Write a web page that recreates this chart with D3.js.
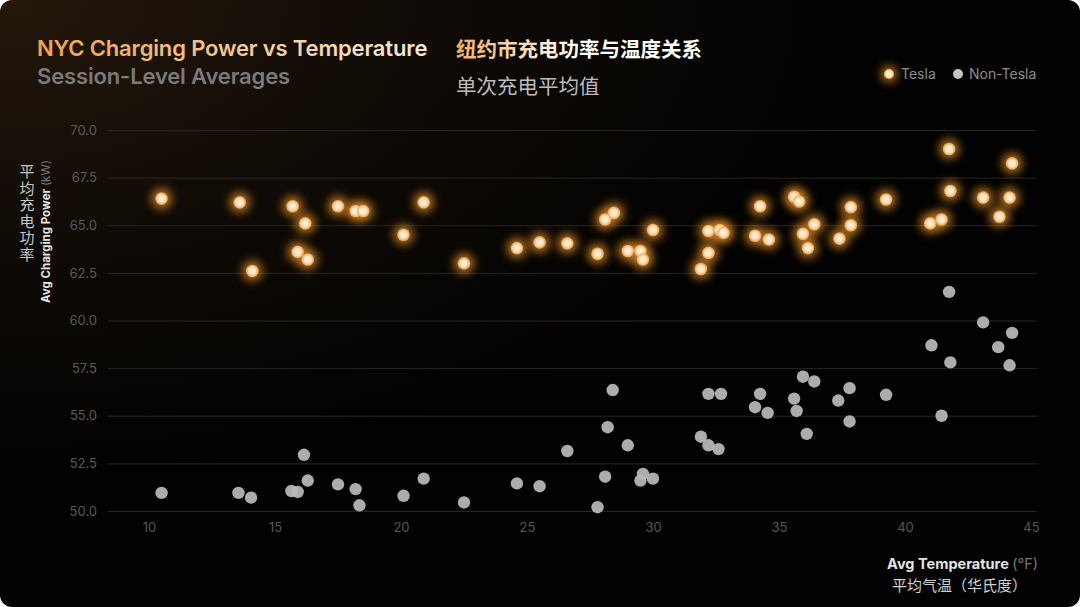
<!DOCTYPE html>
<html>
<head>
<meta charset="utf-8">
<script src="https://cdn.jsdelivr.net/npm/d3@7"></script>
<style>
  body { margin: 0; background: #ffffff; }
  svg { display: block; }
  text { font-family: Inter, "Noto Sans", sans-serif; }
  .cjk { font-family: "Noto Sans CJK SC", sans-serif; }
</style>
</head>
<body>
<script>
// Tesla sessions: temperature (°F) and avg power (kW)
var teslaTemp = [10.5, 13.6, 14.1, 15.7, 15.9, 16.2, 16.3, 17.5, 18.2, 18.5,
  20.1, 20.9, 22.5, 24.6, 25.5, 26.6, 27.8, 28.1, 28.45, 29.0,
  29.5, 29.6, 30.0, 31.9, 32.2, 32.2, 32.65, 32.8, 34.05, 34.25,
  34.6, 35.6, 35.8, 35.95, 36.15, 36.4, 37.4, 37.85, 37.85, 39.25,
  41.0, 41.45, 41.75, 41.8, 43.1, 43.75, 44.15, 44.25];
var teslaPower = [66.4, 66.2, 62.6, 66.0, 63.6, 65.1, 63.2, 66.0, 65.75, 65.75,
  64.5, 66.2, 63.0, 63.8, 64.1, 64.05, 63.5, 65.3, 65.65, 63.65,
  63.65, 63.2, 64.75, 62.7, 64.7, 63.55, 64.75, 64.6, 64.45, 66.0,
  64.25, 66.5, 66.25, 64.55, 63.8, 65.05, 64.3, 65.95, 65.0, 66.35,
  65.1, 65.3, 69.0, 66.8, 66.45, 65.45, 66.45, 68.25];

// Non-Tesla sessions
var otherTemp = [10.5, 13.55, 14.05, 15.65, 15.9, 16.15, 16.3, 17.5, 18.2, 18.35,
  20.1, 20.9, 22.5, 24.6, 25.5, 26.6, 27.8, 28.1, 28.2, 28.4,
  29.0, 29.5, 29.6, 30.0, 31.9, 32.2, 32.2, 32.6, 32.7, 34.05,
  34.25, 34.55, 35.6, 35.7, 35.95, 36.1, 36.4, 37.35, 37.8, 37.8,
  39.25, 41.05, 41.45, 41.75, 41.8, 43.1, 43.7, 44.15, 44.25];
var otherPower = [50.95, 50.95, 50.7, 51.05, 51.0, 52.95, 51.6, 51.4, 51.15, 50.3,
  50.8, 51.7, 50.45, 51.45, 51.3, 53.15, 50.2, 51.8, 54.4, 56.35,
  53.45, 51.6, 51.95, 51.7, 53.9, 53.45, 56.15, 53.25, 56.15, 55.45,
  56.15, 55.15, 55.9, 55.25, 57.05, 54.05, 56.8, 55.8, 56.45, 54.7,
  56.1, 58.7, 55.0, 61.5, 57.8, 59.9, 58.6, 57.65, 59.35];

var xTicks = [10, 15, 20, 25, 30, 35, 40, 45];
var yTicks = [50, 52.5, 55, 57.5, 60, 62.5, 65, 67.5, 70];

var w = 1080;
var h = 607;

var svg = d3.select("body")
  .append("svg")
  .attr("width", w)
  .attr("height", h);

var defs = svg.append("defs");

var bg = defs.append("radialGradient")
  .attr("id", "bg")
  .attr("cx", "0").attr("cy", "0").attr("r", "1.0");
bg.append("stop").attr("offset", "0").attr("stop-color", "#24170b");
bg.append("stop").attr("offset", "0.45").attr("stop-color", "#0d0905");
bg.append("stop").attr("offset", "0.8").attr("stop-color", "#020202");

var titleGrad = defs.append("linearGradient").attr("id", "titleGrad");
titleGrad.append("stop").attr("offset", "0").attr("stop-color", "#eea451");
titleGrad.append("stop").attr("offset", "1").attr("stop-color", "#f6ead8");

var cnGrad = defs.append("linearGradient").attr("id", "cnGrad");
cnGrad.append("stop").attr("offset", "0").attr("stop-color", "#f0b066");
cnGrad.append("stop").attr("offset", "0.5").attr("stop-color", "#ffffff");

var dotGrad = defs.append("radialGradient").attr("id", "dotGrad");
dotGrad.append("stop").attr("offset", "0").attr("stop-color", "#fffaf0");
dotGrad.append("stop").attr("offset", "0.55").attr("stop-color", "#fde8c4");
dotGrad.append("stop").attr("offset", "1").attr("stop-color", "#e9a552");

var glow = defs.append("filter").attr("id", "glow")
  .attr("x", "-100%").attr("y", "-100%").attr("width", "300%").attr("height", "300%");
glow.append("feGaussianBlur").attr("stdDeviation", 5);

svg.append("rect")
  .attr("width", w).attr("height", h)
  .attr("rx", 12)
  .attr("fill", "url(#bg)");

var x = d3.scaleLinear().domain([10, 45]).range([149, 1031]);
var y = d3.scaleLinear().domain([50, 70]).range([511, 130]);

// grid lines
svg.append("g")
  .attr("transform", "translate(108,0)")
  .call(d3.axisLeft(y).tickValues(yTicks).tickSize(-929).tickFormat(""))
  .call(function(g) { g.select(".domain").remove(); })
  .selectAll("line")
  .attr("stroke", "#2a2520")
  .attr("stroke-width", 1);

// y tick labels
svg.append("g")
  .attr("transform", "translate(97,0)")
  .call(d3.axisLeft(y).tickValues(yTicks).tickSize(0).tickPadding(0).tickFormat(d3.format(".1f")))
  .call(function(g) {
    g.select(".domain").remove();
    g.selectAll("text")
      .attr("fill", "#5b5854")
      .attr("font-size", 13)
      .attr("font-family", "Inter, sans-serif");
  });

// x tick labels
svg.append("g")
  .attr("transform", "translate(0,523)")
  .call(d3.axisBottom(x).tickValues(xTicks).tickSize(0).tickPadding(0))
  .call(function(g) {
    g.select(".domain").remove();
    g.selectAll("text")
      .attr("fill", "#575757")
      .attr("font-size", 13)
      .attr("font-family", "Inter, sans-serif");
  });

// non-tesla points
svg.selectAll(".other")
  .data(otherTemp)
  .enter()
  .append("circle")
  .attr("class", "other")
  .attr("cx", function(d) { return x(d); })
  .attr("cy", function(d, i) { return y(otherPower[i]); })
  .attr("r", 6.2)
  .attr("fill", "#b9b9b9")
  .attr("fill-opacity", 0.93);

// tesla glow + core
svg.selectAll(".teslaGlow")
  .data(teslaTemp)
  .enter()
  .append("circle")
  .attr("class", "teslaGlow")
  .attr("cx", function(d) { return x(d); })
  .attr("cy", function(d, i) { return y(teslaPower[i]); })
  .attr("r", 10)
  .attr("fill", "#d98628")
  .attr("opacity", 0.85)
  .attr("filter", "url(#glow)");

svg.selectAll(".tesla")
  .data(teslaTemp)
  .enter()
  .append("circle")
  .attr("class", "tesla")
  .attr("cx", function(d) { return x(d); })
  .attr("cy", function(d, i) { return y(teslaPower[i]); })
  .attr("r", 6.3)
  .attr("fill", "url(#dotGrad)")
  .attr("fill-opacity", 0.95);

// titles
svg.append("text")
  .attr("x", 37).attr("y", 56)
  .attr("font-size", 22).attr("font-weight", 600)
  .attr("fill", "url(#titleGrad)")
  .attr("letter-spacing", -0.15)
  .text("NYC Charging Power vs Temperature");

svg.append("text")
  .attr("x", 37).attr("y", 84)
  .attr("font-size", 22).attr("font-weight", 600)
  .attr("fill", "#7b7b7b")
  .attr("letter-spacing", -0.15)
  .text("Session-Level Averages");

svg.append("text")
  .attr("class", "cjk")
  .attr("x", 456).attr("y", 57)
  .attr("font-size", 20.5).attr("font-weight", 700)
  .attr("fill", "url(#cnGrad)")
  .text("纽约市充电功率与温度关系");

svg.append("text")
  .attr("class", "cjk")
  .attr("x", 456).attr("y", 94)
  .attr("font-size", 20.5)
  .attr("fill", "#bdbdbd")
  .text("单次充电平均值");

// legend
var legend = svg.append("g");
legend.append("circle").attr("cx", 889).attr("cy", 74).attr("r", 8)
  .attr("fill", "#d98628").attr("opacity", 0.85).attr("filter", "url(#glow)");
legend.append("circle").attr("cx", 889).attr("cy", 74).attr("r", 5)
  .attr("fill", "url(#dotGrad)");
legend.append("text").attr("x", 901).attr("y", 79)
  .attr("font-size", 14).attr("fill", "#8d8d8d").text("Tesla");
legend.append("circle").attr("cx", 958).attr("cy", 74).attr("r", 5)
  .attr("fill", "#c4c4c4");
legend.append("text").attr("x", 969).attr("y", 79)
  .attr("font-size", 14).attr("fill", "#8d8d8d").text("Non-Tesla");

// y axis title
var yTitle = svg.append("text")
  .attr("transform", "translate(50,303) rotate(-90)")
  .attr("font-family", "Roboto, sans-serif")
  .attr("font-size", 11.5);
yTitle.append("tspan").attr("font-weight", 700).attr("fill", "#e4e4e4").text("Avg Charging Power ");
yTitle.append("tspan").attr("fill", "#777").text("(kW)");

svg.append("text")
  .attr("class", "cjk")
  .attr("x", 27).attr("y", 164)
  .attr("font-size", 15)
  .attr("fill", "#c8c8c8")
  .style("writing-mode", "vertical-rl")
  .style("text-orientation", "upright")
  .attr("letter-spacing", 1.5)
  .text("平均充电功率");

// x axis title
var xTitle = svg.append("text")
  .attr("x", 1038).attr("y", 569)
  .attr("text-anchor", "end")
  .attr("font-family", "Roboto, sans-serif")
  .attr("font-size", 14.5);
xTitle.append("tspan").attr("font-weight", 700).attr("fill", "#e4e4e4").text("Avg Temperature ");
xTitle.append("tspan").attr("fill", "#777").text("(°F)");

svg.append("text")
  .attr("class", "cjk")
  .attr("x", 1027).attr("y", 591)
  .attr("text-anchor", "end")
  .attr("font-size", 15)
  .attr("fill", "#d0d0d0")
  .text("平均气温（华氏度）");
</script>
</body>
</html>
